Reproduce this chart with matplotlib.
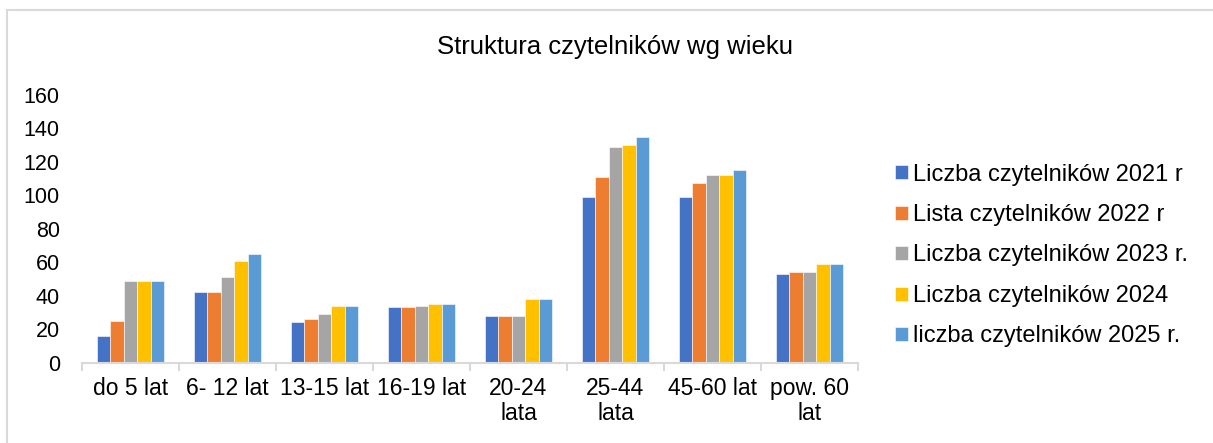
import matplotlib.pyplot as plt
import numpy as np
from matplotlib.lines import Line2D

plt.rcParams['font.family'] = ['Liberation Sans', 'DejaVu Sans']

# Data
categories = ['do 5 lat', '6- 12 lat', '13-15 lat', '16-19 lat', '20-24\nlata',
              '25-44\nlata', '45-60 lat', 'pow. 60\nlat']
series_names = ['Liczba czytelników 2021 r', 'Lista czytelników 2022 r',
                'Liczba czytelników 2023 r.', 'Liczba czytelników 2024',
                'liczba czytelników 2025 r.']
v2021 = [16, 42, 24, 33, 28, 99, 99, 53]
v2022 = [25, 42, 26, 33, 28, 111, 107, 54]
v2023 = [49, 51, 29, 34, 28, 129, 112, 54]
v2024 = [49, 61, 34, 35, 38, 130, 112, 59]
v2025 = [49, 65, 34, 35, 38, 135, 115, 59]
values = [v2021, v2022, v2023, v2024, v2025]
colors = ['#4472C4', '#ED7D31', '#A5A5A5', '#FFC000', '#5B9BD5']

fig = plt.figure(figsize=(12.13, 4.43), dpi=100)
ax = fig.add_axes([0.0676, 0.1813, 0.6397, 0.6049])

x = np.arange(len(categories))
bw = 0.139
for i, (vals, name, c) in enumerate(zip(values, series_names, colors)):
    ax.bar(x + (i - 2) * bw, vals, bw, color=c, label=name,
           edgecolor='white', linewidth=0.4)

ax.set_xlim(-0.5, len(categories) - 0.5)
ax.set_ylim(0, 160)
ax.set_yticks(np.arange(0, 161, 20))
ax.tick_params(axis='y', length=0, pad=16, labelsize=15.5)

# category labels at centers, tick marks on boundaries
ax.set_xticks(x)
ax.set_xticklabels(categories, fontsize=16.5, linespacing=1.12)
ax.tick_params(axis='x', which='major', length=0, pad=10)
ax.set_xticks(np.arange(-0.5, len(categories)), minor=True)
ax.tick_params(axis='x', which='minor', length=6, width=1.5, color='#D9D9D9', direction='out')

for s in ['top', 'right', 'left']:
    ax.spines[s].set_visible(False)
ax.spines['bottom'].set_color('#D9D9D9')
ax.spines['bottom'].set_linewidth(1.5)

fig.text(0.507, 0.893, 'Struktura czytelników wg wieku', ha='center', va='center', fontsize=18.5)

ax.legend(loc='center left', bbox_to_anchor=(1.036, 0.40), frameon=False,
          fontsize=17, handlelength=0.53, handleheight=0.53, handletextpad=0.2,
          labelspacing=0.78, borderaxespad=0)

# chart area border (left and top visible)
fig.add_artist(Line2D([0.0058, 0.0058], [0, 0.9774], color='#D9D9D9', linewidth=1.5))
fig.add_artist(Line2D([0.0058, 1.0], [0.9774, 0.9774], color='#D9D9D9', linewidth=1.5))

fig.savefig('out.png', dpi=100)
